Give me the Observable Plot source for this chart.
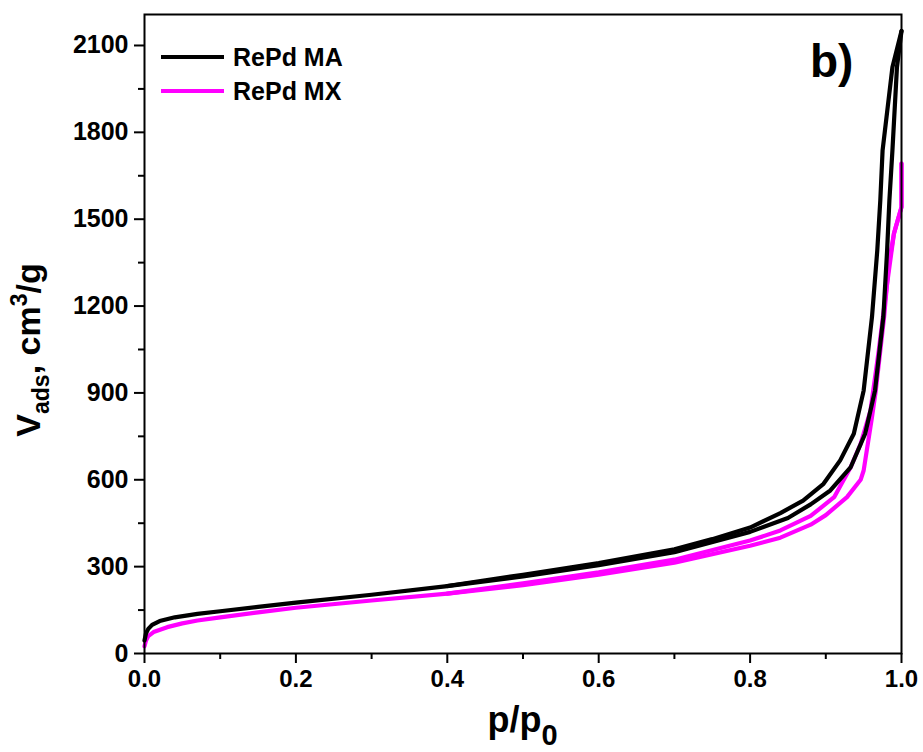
<!DOCTYPE html>
<html>
<head>
<meta charset="utf-8">
<script src="https://cdn.jsdelivr.net/npm/d3@7"></script>
<script src="https://cdn.jsdelivr.net/npm/@observablehq/plot@0.6"></script>
<style>
  html, body { margin: 0; padding: 0; background: #fff; }
  #chart { width: 923px; height: 752px; }
</style>
</head>
<body>
<div id="chart"></div>
<script>
// ---- Data ----
const seriesNames = ["RePd MA", "RePd MX"];
const seriesColors = ["#000000", "#ff00ff"];

// RePd MA – adsorption branch
const maAdsP = [0, 0.002, 0.005, 0.01, 0.02, 0.04, 0.07, 0.1, 0.15, 0.2, 0.3, 0.4, 0.5, 0.6, 0.7, 0.8, 0.85, 0.88, 0.906, 0.933, 0.952, 0.965, 0.976, 0.981, 0.984, 0.988, 0.994, 1.0];
const maAdsV = [45, 70, 85, 99, 112, 125, 137, 146, 161, 176, 203, 233, 266, 305, 350, 420, 468, 515, 563, 644, 759, 908, 1162, 1392, 1565, 1737, 2025, 2150];
// RePd MA – desorption branch
const maDesP = [1.0, 0.988, 0.975, 0.972, 0.968, 0.961, 0.950, 0.937, 0.919, 0.897, 0.87, 0.84, 0.8, 0.75, 0.7, 0.6, 0.5, 0.4];
const maDesV = [2150, 2025, 1737, 1565, 1392, 1162, 908, 759, 667, 586, 528, 485, 435, 395, 360, 312, 272, 233];

// RePd MX – adsorption branch
const mxAdsP = [0, 0.002, 0.005, 0.012, 0.03, 0.05, 0.07, 0.1, 0.15, 0.2, 0.3, 0.4, 0.5, 0.6, 0.7, 0.8, 0.84, 0.88, 0.9, 0.928, 0.946, 0.950, 0.961, 0.966, 0.977, 0.983, 0.990, 1.0, 1.0];
const mxAdsV = [25, 45, 60, 74, 91, 104, 114, 125, 142, 158, 183, 207, 236, 272, 314, 372, 400, 445, 478, 540, 600, 632, 816, 908, 1162, 1340, 1450, 1542, 1692];
// RePd MX – desorption branch
const mxDesP = [1.0, 1.0, 0.990, 0.981, 0.970, 0.959, 0.946, 0.933, 0.911, 0.88, 0.84, 0.8, 0.7, 0.6, 0.5, 0.4];
const mxDesV = [1692, 1542, 1450, 1277, 1047, 839, 724, 644, 540, 475, 425, 390, 324, 280, 242, 207];

// Axis ticks
const xMajorTicks = [0, 0.2, 0.4, 0.6, 0.8, 1.0];
const xMinorTicks = [0.1, 0.3, 0.5, 0.7, 0.9];
const yMajorTicks = [0, 300, 600, 900, 1200, 1500, 1800, 2100];
const yMinorTicks = [150, 450, 750, 1050, 1350, 1650, 1950];

const panelLabel = "b)";

// ---- Build tables ----
const toRows = (P, V, name, branch) => P.map((p, i) => ({p, v: V[i], series: name, branch}));
const rows = [
  ...toRows(mxAdsP, mxAdsV, seriesNames[1], "ads"),
  ...toRows(mxDesP, mxDesV, seriesNames[1], "des"),
  ...toRows(maAdsP, maAdsV, seriesNames[0], "ads"),
  ...toRows(maDesP, maDesV, seriesNames[0], "des")
];
const byLine = d3.groups(rows, d => d.series + "|" + d.branch);

const FONT = "'Liberation Sans', Arial, Helvetica, sans-serif";

const chart = Plot.plot({
  width: 923,
  height: 752,
  marginLeft: 144,
  marginRight: 22,
  marginTop: 14,
  marginBottom: 99,
  style: {fontFamily: FONT, fontWeight: "bold", color: "#000", background: "#fff", overflow: "visible"},
  x: {domain: [0, 1]},
  y: {domain: [0, 2207]},
  color: {domain: seriesNames, range: seriesColors},
  marks: [
    ...byLine.map(([key, data]) => Plot.line(data, {
      x: "p", y: "v", stroke: "series", strokeWidth: 4.2, curve: "linear", strokeLinejoin: "round"
    })),
    Plot.frame({stroke: "#000", strokeWidth: 2}),
    Plot.axisY(yMajorTicks, {tickSize: 10, tickPadding: 6, strokeWidth: 2, fontSize: 25, fontWeight: "bold", tickFormat: d => String(d), label: null}),
    Plot.axisY(yMinorTicks, {tickSize: 6, strokeWidth: 2, tickFormat: () => "", label: null}),
    Plot.axisX(xMajorTicks, {tickSize: 10, tickPadding: 6, strokeWidth: 2, fontSize: 24, fontWeight: "bold", tickFormat: d => d.toFixed(1), label: null}),
    Plot.axisX(xMinorTicks, {tickSize: 6, strokeWidth: 2, tickFormat: () => "", label: null})
  ]
});

document.getElementById("chart").appendChild(chart);

// ---- Titles, legend and panel label as real text ----
const svg = d3.select(chart);
const xs = chart.scale("x"), ys = chart.scale("y");

// x title p/p0
const xt = svg.append("text")
  .attr("x", (xs.range[0] + xs.range[1]) / 2)
  .attr("y", 732)
  .attr("text-anchor", "middle")
  .attr("font-family", FONT).attr("font-weight", "bold").attr("font-size", 36).attr("fill", "#000");
xt.append("tspan").text("p/p");
xt.append("tspan").attr("font-size", 29).attr("dy", 13).text("0");

// y title V_ads, cm^3/g
const yt = svg.append("text")
  .attr("transform", `translate(40, 350) rotate(-90)`)
  .attr("text-anchor", "middle")
  .attr("font-family", FONT).attr("font-weight", "bold").attr("font-size", 34).attr("fill", "#000");
yt.append("tspan").text("V");
yt.append("tspan").attr("font-size", 23).attr("dy", 9).text("ads");
yt.append("tspan").attr("dy", -9).text(", cm");
yt.append("tspan").attr("font-size", 23).attr("dy", -13).text("3");
yt.append("tspan").attr("dy", 13).text("/g");

// legend
const lg = svg.append("g").attr("font-family", FONT).attr("font-weight", "bold").attr("font-size", 25).attr("text-anchor", "start");
seriesNames.forEach((name, i) => {
  const y = 57 + i * 34;
  lg.append("line").attr("x1", 161).attr("x2", 224).attr("y1", y).attr("y2", y)
    .attr("stroke", seriesColors[i]).attr("stroke-width", 4);
  lg.append("text").attr("x", 233).attr("y", y + 9).attr("fill", "#000").text(name);
});

// panel label
svg.append("text").attr("x", 810).attr("y", 77).attr("text-anchor", "start")
  .attr("font-family", FONT).attr("font-weight", "bold").attr("font-size", 46).attr("fill", "#000")
  .text(panelLabel);
</script>
</body>
</html>
